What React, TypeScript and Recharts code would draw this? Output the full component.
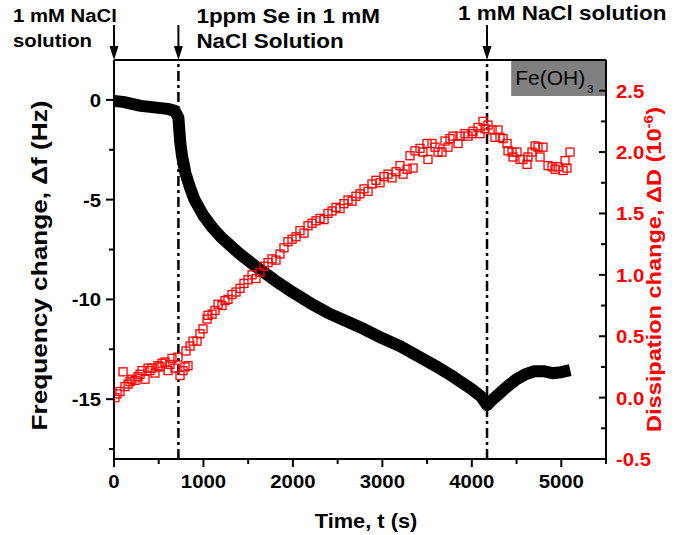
import React from 'react';
import { ComposedChart, Line, Scatter, XAxis, YAxis, ReferenceLine, ReferenceArea } from 'recharts';

const FONT = '"Liberation Sans", Arial, Helvetica, sans-serif';
const RED = '#ff0000';

// Frequency change (Hz) vs time (s)
const freqTime = [0, 100, 200, 300, 400, 500, 600, 680, 720, 740, 760, 800, 850, 900, 1000, 1100, 1200, 1400, 1600, 1800, 2000, 2200, 2400, 2600, 2800, 3000, 3200, 3400, 3600, 3800, 4000, 4100, 4170, 4200, 4300, 4400, 4500, 4600, 4700, 4800, 4900, 5000, 5100];
const freqValue = [-0.05, -0.1, -0.2, -0.3, -0.35, -0.4, -0.45, -0.55, -0.9, -2.1, -2.8, -3.7, -4.4, -5.0, -5.8, -6.4, -6.9, -7.7, -8.4, -9.05, -9.65, -10.2, -10.7, -11.1, -11.5, -11.95, -12.35, -12.85, -13.35, -13.9, -14.5, -14.85, -15.3, -15.15, -14.75, -14.35, -14.0, -13.75, -13.6, -13.6, -13.7, -13.65, -13.55];

// Dissipation change (1e-6) vs time (s)
const dissTime = [11, 34, 67, 101, 123, 157, 179, 201, 235, 268, 291, 313, 347, 380, 402, 425, 458, 492, 514, 537, 570, 604, 626, 648, 682, 715, 738, 771, 794, 805, 827, 850, 883, 928, 961, 995, 1040, 1051, 1096, 1129, 1163, 1207, 1241, 1274, 1319, 1364, 1409, 1453, 1498, 1543, 1587, 1632, 1677, 1722, 1766, 1811, 1856, 1900, 1945, 1990, 2035, 2079, 2124, 2169, 2214, 2258, 2303, 2348, 2392, 2437, 2482, 2527, 2571, 2616, 2661, 2705, 2750, 2795, 2840, 2884, 2929, 2974, 3018, 3063, 3108, 3153, 3197, 3231, 3276, 3309, 3343, 3365, 3421, 3454, 3499, 3510, 3555, 3589, 3622, 3667, 3700, 3734, 3756, 3790, 3846, 3868, 3924, 3958, 4002, 4013, 4069, 4092, 4125, 4148, 4181, 4226, 4259, 4293, 4315, 4349, 4394, 4405, 4449, 4461, 4505, 4539, 4572, 4617, 4628, 4673, 4707, 4740, 4763, 4796, 4852, 4897, 4930, 4964, 5020, 5042, 5064, 5098];
const dissValue = [0.0, 0.03, 0.05, 0.21, 0.09, 0.11, 0.13, 0.15, 0.14, 0.17, 0.19, 0.22, 0.15, 0.24, 0.22, 0.24, 0.2, 0.26, 0.25, 0.28, 0.29, 0.22, 0.27, 0.32, 0.24, 0.33, 0.18, 0.22, 0.25, 0.38, 0.26, 0.42, 0.46, 0.46, 0.52, 0.56, 0.64, 0.67, 0.68, 0.71, 0.76, 0.75, 0.79, 0.8, 0.84, 0.86, 0.89, 0.93, 0.96, 1.0, 0.97, 1.02, 1.07, 1.1, 1.13, 1.12, 1.17, 1.22, 1.27, 1.29, 1.31, 1.36, 1.34, 1.4, 1.42, 1.44, 1.46, 1.45, 1.5, 1.52, 1.55, 1.54, 1.58, 1.61, 1.6, 1.64, 1.66, 1.7, 1.68, 1.74, 1.77, 1.75, 1.8, 1.82, 1.79, 1.84, 1.89, 1.82, 1.86, 1.97, 1.87, 2.01, 2.03, 2.0, 2.07, 1.94, 2.07, 2.04, 2.0, 2.0, 2.09, 2.04, 2.11, 2.13, 2.07, 2.13, 2.15, 2.13, 2.15, 2.17, 2.2, 2.15, 2.25, 2.19, 2.22, 2.18, 2.12, 2.18, 2.12, 2.11, 2.07, 2.01, 2.0, 1.96, 2.0, 1.94, 1.94, 1.9, 1.96, 2.0, 2.05, 2.04, 1.96, 2.04, 1.89, 1.88, 1.86, 1.88, 1.85, 1.93, 1.87, 2.0];

const xTicks = [0, 500, 1000, 1500, 2000, 2500, 3000, 3500, 4000, 4500, 5000, 5500];
const leftTicks = [-17.5, -15, -12.5, -10, -7.5, -5, -2.5, 0];
const rightTicks = [-0.5, -0.25, 0, 0.25, 0.5, 0.75, 1, 1.25, 1.5, 1.75, 2, 2.25, 2.5];
const solutionChanges = [720, 4170];

const freqData = freqTime.map((t, i) => ({ t, f: freqValue[i] }));
const dissData = dissTime.map((t, i) => ({ t, d: dissValue[i] }));

const ST = ({ x, y, anchor = 'start', size = 19, fill = '#000', weight = 'bold', sx = 1.07, children }: any) => (
  <text
    transform={`translate(${x},${y}) scale(${sx},1)`}
    textAnchor={anchor}
    fontSize={size}
    fontWeight={weight}
    fill={fill}
    fontFamily={FONT}
  >
    {children}
  </text>
);

const LeftTick = (props: any) => {
  const { x, y, payload } = props;
  const v = payload.value;
  const major = Math.abs(v % 5) < 1e-9;
  return (
    <g>
      <line x1={x} x2={x - (major ? 8 : 5)} y1={y} y2={y} stroke="#000" strokeWidth={2} />
      {major && <ST x={x - 13} y={y + 7} anchor="end">{String(v)}</ST>}
    </g>
  );
};

const RightTick = (props: any) => {
  const { x, y, payload } = props;
  const v = payload.value;
  const major = Math.abs((v * 2) - Math.round(v * 2)) < 1e-9;
  return (
    <g>
      <line x1={x} x2={x - (major ? 7 : 5)} y1={y} y2={y} stroke="#000" strokeWidth={2} />
      {major && <ST x={x + 10} y={y + 7} anchor="start" fill={RED}>{v.toFixed(1)}</ST>}
    </g>
  );
};

const BottomTick = (props: any) => {
  const { x, y, payload } = props;
  const v = payload.value;
  const major = v % 1000 === 0;
  return (
    <g>
      <line x1={x} x2={x} y1={y} y2={y + (major ? 8 : 5)} stroke="#000" strokeWidth={2} />
      {major && <ST x={x} y={y + 29} anchor="middle">{String(v)}</ST>}
    </g>
  );
};

const Square = (props: any) => {
  const { cx, cy } = props;
  if (cx == null || cy == null) return null;
  return <rect x={cx - 4} y={cy - 4} width={8} height={8} fill="none" stroke={RED} strokeWidth={1.3} />;
};

const Arrow = ({ x, y }: any) => (
  <g>
    <line x1={x} x2={x} y1={y - 35} y2={y - 12} stroke="#000" strokeWidth={2} />
    <polygon points={`${x - 4.5},${y - 14} ${x + 4.5},${y - 14} ${x},${y}`} fill="#000" />
  </g>
);

const StartLabel = (props: any) => {
  const vb = props.viewBox || {};
  const x = vb.x, y = vb.y;
  return (
    <g>
      <Arrow x={x} y={y} />
      <ST x={x - 101} y={y - 38}>1 mM NaCl</ST>
      <ST x={x - 101} y={y - 13}>solution</ST>
    </g>
  );
};

const SeLabel = (props: any) => {
  const vb = props.viewBox || {};
  const x = vb.x, y = vb.y;
  return (
    <g>
      <Arrow x={x} y={y} />
      <ST x={x + 18} y={y - 37} size={21}>1ppm Se in 1 mM</ST>
      <ST x={x + 18} y={y - 12} size={21}>NaCl Solution</ST>
    </g>
  );
};

const NaclLabel = (props: any) => {
  const vb = props.viewBox || {};
  const x = vb.x, y = vb.y;
  return (
    <g>
      <Arrow x={x} y={y} />
      <ST x={x - 29} y={y - 40} size={21}>1 mM NaCl solution</ST>
    </g>
  );
};

const FeLabel = (props: any) => {
  const vb = props.viewBox || {};
  return (
    <text x={vb.x + 4} y={vb.y + 25} fontSize={21} fontFamily={FONT} fill="#000">
      Fe(OH)
      <tspan dx={2} dy={8} fontSize={11}>3</tspan>
    </text>
  );
};

const XTitle = (props: any) => {
  const vb = props.viewBox || {};
  return (
    <ST x={vb.x + vb.width / 2 + 6} y={vb.y + 69} anchor="middle" size={20} sx={1.09}>
      Time, t (s)
    </ST>
  );
};

const LeftTitle = (props: any) => {
  const vb = props.viewBox || {};
  const cx = vb.x + 47;
  const cy = vb.y + vb.height / 2 + 6;
  return (
    <text
      transform={`translate(${cx},${cy}) rotate(-90)`}
      textAnchor="middle"
      fontSize={22}
      fontWeight="bold"
      fontFamily={FONT}
      fill="#000"
      textLength={330}
      lengthAdjust="spacingAndGlyphs"
    >
      Frequency change, Δf (Hz)
    </text>
  );
};

const RightTitle = (props: any) => {
  const vb = props.viewBox || {};
  const cx = vb.x + 55;
  const cy = vb.y + vb.height / 2 + 10;
  return (
    <text
      transform={`translate(${cx},${cy}) rotate(-90)`}
      textAnchor="middle"
      fontSize={20}
      fontWeight="bold"
      fontFamily={FONT}
      fill={RED}
      textLength={325}
      lengthAdjust="spacingAndGlyphs"
    >
      Dissipation change, ΔD (10
      <tspan dy={-8} fontSize={13}>-6</tspan>
      <tspan dy={8}>)</tspan>
    </text>
  );
};

export default function App() {
  return (
    <div style={{ position: 'absolute', left: 0, top: 0, width: 678, height: 535, background: '#fff' }}>
      <ComposedChart width={678} height={535} margin={{ top: 60, right: 0, bottom: 0, left: 0 }}>
        <XAxis
          dataKey="t"
          type="number"
          domain={[0, 5500]}
          ticks={xTicks}
          interval={0}
          allowDataOverflow
          height={76}
          tickSize={0}
          tickMargin={0}
          tickLine={false}
          tick={(p: any) => <BottomTick {...p} />}
          axisLine={{ stroke: '#000', strokeWidth: 2 }}
          label={(p: any) => <XTitle {...p} />}
        />
        <YAxis
          yAxisId="left"
          orientation="left"
          dataKey="f"
          type="number"
          domain={[-18, 2]}
          ticks={leftTicks}
          interval={0}
          allowDataOverflow
          width={114}
          tickSize={0}
          tickMargin={0}
          tickLine={false}
          tick={(p: any) => <LeftTick {...p} />}
          axisLine={{ stroke: '#000', strokeWidth: 2 }}
          label={(p: any) => <LeftTitle {...p} />}
        />
        <YAxis
          yAxisId="right"
          orientation="right"
          dataKey="d"
          type="number"
          domain={[-0.5, 2.75]}
          ticks={rightTicks}
          interval={0}
          allowDataOverflow
          width={72}
          tickSize={0}
          tickMargin={0}
          tickLine={false}
          tick={(p: any) => <RightTick {...p} />}
          axisLine={{ stroke: '#000', strokeWidth: 2 }}
          label={(p: any) => <RightTitle {...p} />}
        />
        <ReferenceArea
          yAxisId="right"
          x1={4440}
          x2={5500}
          y1={2.457}
          y2={2.75}
          fill="#808080"
          fillOpacity={1}
          stroke="none"
          label={(p: any) => <FeLabel {...p} />}
        />
        <ReferenceLine yAxisId="left" y={2} stroke="#000" strokeWidth={2} />
        <ReferenceLine yAxisId="left" x={0} stroke="#000" strokeWidth={0} label={(p: any) => <StartLabel {...p} />} />
        <ReferenceLine
          yAxisId="left"
          x={solutionChanges[0]}
          stroke="#000"
          strokeWidth={2.5}
          strokeDasharray="10 4 3 4"
          label={(p: any) => <SeLabel {...p} />}
        />
        <ReferenceLine
          yAxisId="left"
          x={solutionChanges[1]}
          stroke="#000"
          strokeWidth={2.5}
          strokeDasharray="10 4 3 4"
          label={(p: any) => <NaclLabel {...p} />}
        />
        <Line
          yAxisId="left"
          data={freqData}
          dataKey="f"
          type="linear"
          stroke="#000"
          strokeWidth={12}
          strokeLinejoin="round"
          dot={false}
          activeDot={false}
          isAnimationActive={false}
        />
        <Scatter
          yAxisId="right"
          data={dissData}
          dataKey="d"
          shape={(p: any) => <Square {...p} />}
          isAnimationActive={false}
        />
      </ComposedChart>
    </div>
  );
}
